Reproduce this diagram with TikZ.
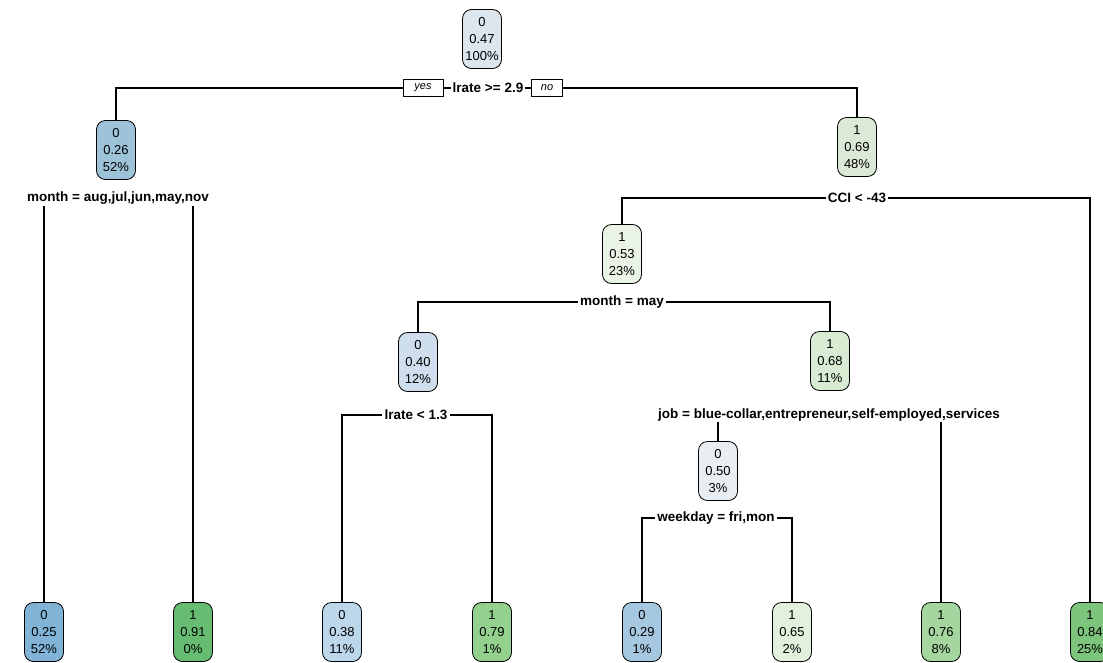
\documentclass[tikz,border=0pt]{standalone}
\usepackage{fontspec}
\setmainfont{Liberation Sans}
\definecolor{cRoot}{HTML}{DCE6EC}
\definecolor{cNa}{HTML}{9CC3D8}
\definecolor{cNb}{HTML}{DBE9D6}
\definecolor{cNc}{HTML}{E9F3E6}
\definecolor{cNd}{HTML}{CFDEEC}
\definecolor{cNe}{HTML}{D8ECD4}
\definecolor{cNf}{HTML}{E9EEF3}
\definecolor{cLa}{HTML}{80B3D5}
\definecolor{cLb}{HTML}{66BC70}
\definecolor{cLc}{HTML}{BCD6EA}
\definecolor{cLd}{HTML}{94D08E}
\definecolor{cLe}{HTML}{A6C7E0}
\definecolor{cLf}{HTML}{E2F0DC}
\definecolor{cLg}{HTML}{A5D69F}
\definecolor{cLh}{HTML}{7DC47C}
\tikzset{
  treebox/.style={draw, line width=0.8pt, rounded corners=9pt, align=center,
    minimum width=39pt, minimum height=59pt, inner sep=1pt,
    font=\fontsize{13}{17}\selectfont},
  splitlab/.style={fill=white, inner xsep=2pt, inner ysep=1pt,
    font=\fontsize{13.5}{15}\selectfont\bfseries},
  yesno/.style={draw, line width=0.8pt, fill=white, inner sep=1pt,
    minimum height=17pt, font=\fontsize{11}{13}\selectfont\itshape},
  branch/.style={line width=1.2pt}
}
\begin{document}
\begin{tikzpicture}[x=1pt,y=-1pt]
\useasboundingbox (0,0) rectangle (1103,662);

% ===== 根节点 =====
\node[treebox, fill=cRoot] (n1) at (482,39) {0\\0.47\\100\%};

% ===== 内部节点 =====
\node[treebox, fill=cNa] (n2) at (116,150) {0\\0.26\\52\%};
\node[treebox, fill=cNb] (n3) at (857,147) {1\\0.69\\48\%};
\node[treebox, fill=cNc] (n6) at (622,254) {1\\0.53\\23\%};
\node[treebox, fill=cNd] (n12) at (418,362) {0\\0.40\\12\%};
\node[treebox, fill=cNe] (n13) at (830,361) {1\\0.68\\11\%};
\node[treebox, fill=cNf] (n26) at (718,471) {0\\0.50\\3\%};

% ===== 叶节点 =====
\node[treebox, fill=cLa] (l1) at (44,632) {0\\0.25\\52\%};
\node[treebox, fill=cLb] (l2) at (193,632) {1\\0.91\\0\%};
\node[treebox, fill=cLc] (l3) at (342,632) {0\\0.38\\11\%};
\node[treebox, fill=cLd] (l4) at (492,632) {1\\0.79\\1\%};
\node[treebox, fill=cLe] (l5) at (642,632) {0\\0.29\\1\%};
\node[treebox, fill=cLf] (l6) at (792,632) {1\\0.65\\2\%};
\node[treebox, fill=cLg] (l7) at (941,632) {1\\0.76\\8\%};
\node[treebox, fill=cLh] (l8) at (1090,632) {1\\0.84\\25\%};

% ===== 分裂条件 =====
\node[splitlab] (s1) at (488,88) {lrate >= 2.9};
\node[yesno, minimum width=40pt] (yes) at (423,88) {yes};
\node[yesno, minimum width=31pt] (no) at (547,88) {no};
\node[splitlab] (s2) at (118,198) {month = aug,jul,jun,may,nov};
\node[splitlab] (s3) at (857,198) {CCI < -43};
\node[splitlab] (s6) at (622,302) {month = may};
\node[splitlab] (s12) at (416,415) {lrate < 1.3};
\node[splitlab] (s13) at (829,415) {job = blue-collar,entrepreneur,self-employed,services};
\node[splitlab] (s26) at (716,518) {weekday = fri,mon};

% ===== 分支 =====
\draw[branch] (n2.north) |- (yes.west);
\draw[branch] (yes) -- (s1);
\draw[branch] (s1) -- (no);
\draw[branch] (no.east) -| (n3.north);

\draw[branch] (l1.north) -- (l1.north |- s2.south);
\draw[branch] (l2.north) -- (l2.north |- s2.south);

\draw[branch] (s3.west) -| (n6.north);
\draw[branch] (s3.east) -| (l8.north);

\draw[branch] (s6.west) -| (n12.north);
\draw[branch] (s6.east) -| (n13.north);

\draw[branch] (s12.west) -| (l3.north);
\draw[branch] (s12.east) -| (l4.north);

\draw[branch] (n26.north) -- (n26.north |- s13.south);
\draw[branch] (l7.north) -- (l7.north |- s13.south);

\draw[branch] (s26.west) -| (l5.north);
\draw[branch] (s26.east) -| (l6.north);

\end{tikzpicture}
\end{document}
